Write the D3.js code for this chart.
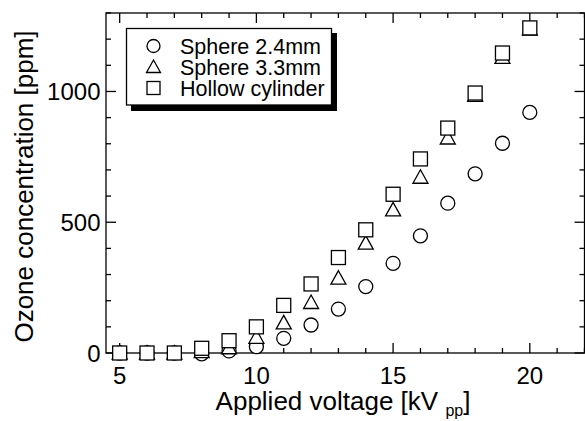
<!DOCTYPE html>
<html><head><meta charset="utf-8">
<script src="https://cdn.jsdelivr.net/npm/d3@7"></script>
<style>body{margin:0;background:#fff}svg{display:block}</style>
</head><body><svg id="c" width="585" height="421" font-family="'Liberation Sans', Arial, Helvetica, sans-serif"></svg>
<script>
const voltage = [5,6,7,8,9,10,11,12,13,14,15,16,17,18,19,20];
const sphere24 = [0,0,0,-3,8,24,56,107,168,254,343,448,573,685,802,920];
const sphere33 = [0,0,0,5,20,60,115,193,286,420,547,672,822,985,1130,1238];
const hollow = [0,0,0,18,47,100,182,264,365,471,607,742,860,994,1147,1243];
const seriesNames = ["Sphere 2.4mm","Sphere 3.3mm","Hollow cylinder"];
const xTicks = [5,10,15,20];
const yTicks = [0,500,1000];

const svg = d3.select("#c");
const L=106,R=584.5,T=13,B=353;
const x = d3.scaleLinear().domain([4.5,22]).range([L,R]);
const y = d3.scaleLinear().domain([0,1300]).range([B,T]);
const sw = 1.3;

// frame
svg.append("rect").attr("x",L).attr("y",T).attr("width",R-L).attr("height",B-T)
  .attr("fill","none").attr("stroke","#000").attr("stroke-width",sw);

// ticks (inward), all sides
const xMinor = d3.range(5,22.01,1);
const yMinor = d3.range(0,1300.1,100);
const g = svg.append("g").attr("stroke","#000").attr("stroke-width",sw);
xMinor.forEach(v=>{
  const len = v%5===0?10:5;
  g.append("line").attr("x1",x(v)).attr("x2",x(v)).attr("y1",B).attr("y2",B-len);
  g.append("line").attr("x1",x(v)).attr("x2",x(v)).attr("y1",T).attr("y2",T+len);
});
yMinor.forEach(v=>{
  const len = v%500===0?10:5;
  g.append("line").attr("y1",y(v)).attr("y2",y(v)).attr("x1",L).attr("x2",L+len);
  g.append("line").attr("y1",y(v)).attr("y2",y(v)).attr("x1",R).attr("x2",R-len);
});

// tick labels
svg.append("g").selectAll("text").data(xTicks).join("text")
  .attr("x",d=>x(d)).attr("y",384).attr("text-anchor","middle")
  .attr("font-size",24).text(d=>d);
svg.append("g").selectAll("text").data(yTicks).join("text")
  .attr("x",100.5).attr("y",d=>y(d)+8.6).attr("text-anchor","end")
  .attr("font-size",24).text(d=>d);

// axis titles
const xt = svg.append("text").attr("x",343).attr("y",410).attr("text-anchor","middle").attr("font-size",26);
xt.append("tspan").text("Applied voltage [kV ");
xt.append("tspan").attr("font-size",16).attr("dy",6).text("pp");
xt.append("tspan").attr("dy",-6).text("]");
svg.append("text").attr("transform","translate(33,186.5) rotate(-90)").attr("text-anchor","middle")
  .attr("font-size",26).text("Ozone concentration [ppm]");

// markers
function drawSeries(vals, type){
  const gg = svg.append("g").attr("fill","none").attr("stroke","#000").attr("stroke-width",sw);
  vals.forEach((v,i)=>drawMarker(gg,type,x(voltage[i]),y(v)));
}
function drawMarker(gg,type,cx,cy){
  if(type===0) gg.append("circle").attr("cx",cx).attr("cy",cy).attr("r",7).attr("fill","#fff");
  else if(type===1) gg.append("path").attr("d","M0,-7.5L7.5,6L-7.5,6Z").attr("transform",`translate(${cx},${cy})`).attr("fill","#fff");
  else gg.append("rect").attr("x",cx-7).attr("y",cy-7).attr("width",14).attr("height",14).attr("fill","#fff");
}
drawSeries(sphere24,0);
drawSeries(sphere33,1);
drawSeries(hollow,2);

// legend
const lg = svg.append("g");
lg.append("rect").attr("x",131).attr("y",33).attr("width",206).attr("height",78).attr("fill","#000");
lg.append("rect").attr("x",126.5).attr("y",28.5).attr("width",205).attr("height",76.5)
  .attr("fill","#fff").attr("stroke","#000").attr("stroke-width",sw);
const lgm = lg.append("g").attr("fill","none").attr("stroke","#000").attr("stroke-width",sw);
seriesNames.forEach((n,i)=>{
  const cy = 46+i*21;
  if(i===0) lgm.append("circle").attr("cx",153.5).attr("cy",cy).attr("r",6.5).attr("fill","#fff");
  else if(i===1) lgm.append("path").attr("d","M0,-7L7,5.5L-7,5.5Z").attr("transform",`translate(153.5,${cy})`).attr("fill","#fff");
  else lgm.append("rect").attr("x",147).attr("y",cy-6.5).attr("width",13).attr("height",13).attr("fill","#fff");
  lg.append("text").attr("x",180).attr("y",cy+7.5).attr("font-size",21.5).text(n);
});
</script></body></html>
